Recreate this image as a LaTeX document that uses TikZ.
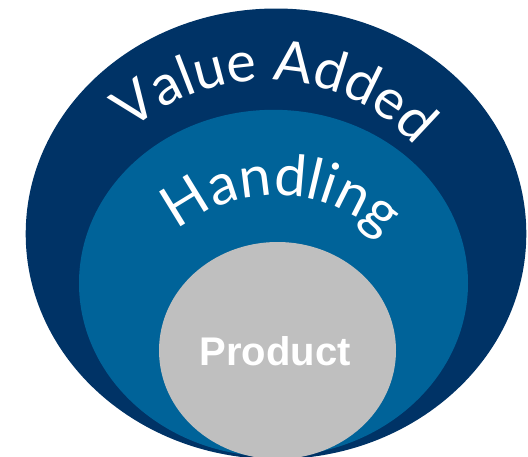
\documentclass[tikz,border=0pt]{standalone}
\usepackage{fontspec}
\setmainfont{Lato}
\newfontfamily\prodfont{Liberation Sans}
\usetikzlibrary{decorations.text,calc}
\definecolor{navy}{RGB}{0,51,102}
\definecolor{midblue}{RGB}{0,99,153}
\definecolor{prodgrey}{RGB}{191,191,191}
\tikzset{
  ringtext/.style={decorate, decoration={text along path, text align=center, text color=white, text={#1}}},
}
\begin{document}
\begin{tikzpicture}[x=1pt,y=1pt]
\useasboundingbox (0,0) rectangle (528,-456);
\clip (0,0) rectangle (528,-456);
\fill[navy] (276,-233.8) ellipse [x radius=250.3, y radius=225.3];
\fill[midblue] (273.5,-283.2) ellipse [x radius=194.5, y radius=173.4];
\fill[prodgrey] (277.5,-350.5) ellipse [x radius=118.5, y radius=108.5];
% curved labels
\path[ringtext={|\fontsize{56}{56}\selectfont|Value Added}]
  ($(265.6,-283.3)+(147:203)$) arc [start angle=147, end angle=27, radius=203];
\path[ringtext={|\fontsize{57}{57}\selectfont|Handling}]
  ($(276,-349)+(148:154)$) arc [start angle=148, end angle=28, radius=154];
\node[anchor=base, text=white, font=\prodfont\bfseries\fontsize{40}{40}\selectfont, inner sep=0pt] (product) at (275,-365) {Product};
\end{tikzpicture}
\end{document}
